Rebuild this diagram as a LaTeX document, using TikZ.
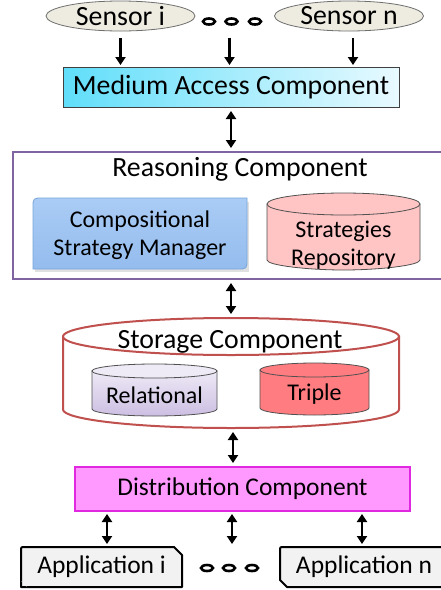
\documentclass[tikz,border=0pt]{standalone}
\usepackage{fontspec}
\setmainfont{Carlito}
\usetikzlibrary{arrows.meta,shapes.geometric}
\definecolor{sensorfill}{RGB}{238,236,225}
\definecolor{sensordraw}{RGB}{110,110,110}
\definecolor{macleft}{RGB}{96,222,250}
\definecolor{macright}{RGB}{232,250,255}
\definecolor{purp}{RGB}{128,100,162}
\definecolor{csmfill}{RGB}{148,188,238}
\definecolor{csmtop}{RGB}{170,204,245}
\definecolor{csmdraw}{RGB}{120,165,220}
\definecolor{repofill}{RGB}{255,196,196}
\definecolor{stdraw}{RGB}{192,80,77}
\definecolor{reltop}{RGB}{238,234,246}
\definecolor{relbot}{RGB}{204,190,226}
\definecolor{triplefill}{RGB}{255,124,128}
\definecolor{distfill}{RGB}{255,153,255}
\definecolor{distdraw}{RGB}{224,40,224}
\definecolor{appfill}{RGB}{242,242,242}
\definecolor{cyldraw}{RGB}{80,80,80}
\begin{document}
\begin{tikzpicture}[x=1pt,y=-1pt,
  arr/.style={line width=2.6pt,-{Triangle[width=10pt,length=8pt]}},
  darr/.style={line width=2.6pt,{Triangle[width=10pt,length=8pt]}-{Triangle[width=10pt,length=8pt]}},
  bigf/.style={font=\fontsize{27.8}{30}\selectfont},
  midf/.style={font=\fontsize{25.5}{28}\selectfont},
  smallf/.style={font=\fontsize{24}{28.5}\selectfont},
  sensor/.style={ellipse,draw=sensordraw,line width=0.8pt,fill=sensorfill,minimum width=149pt,minimum height=30pt,inner sep=0pt},
  dotsh/.style={ellipse,draw=black,line width=2.6pt,fill=white,minimum width=12pt,minimum height=6pt,inner sep=0pt},
  anchorbox/.style={inner sep=0pt,outer sep=0pt},
  appline/.style={draw=black,line width=2pt,fill=appfill,line join=round}]
\useasboundingbox (0,0) rectangle (441,590);
\fill[white] (0,0) rectangle (441,590);

% Sensors
\node[sensor] (si) at (120.5,16) {};
\node[bigf] at (si) {Sensor i};
\node[sensor] (sn) at (349,16) {};
\node[bigf] at (sn) {Sensor n};
\node[dotsh] (d1) at (209,21.5) {};
\node[dotsh] (d2) at (231.5,21.5) {};
\node[dotsh] (d3) at (255,21.5) {};

% Medium access
\node[anchorbox,draw=black!75,line width=0.8pt,left color=macleft,right color=macright,minimum width=336pt,minimum height=40pt] (mac) at (231,87) {};
\node[bigf] at (mac) {Medium Access Component};

\coordinate (s1) at ([yshift=-7pt]si.south);
\coordinate (s2) at ([xshift=-2pt,yshift=-16pt]d2.center);
\coordinate (s3) at ([xshift=4pt,yshift=-7pt]sn.south);
\draw[arr,shorten >=2pt] (s1) -- (s1 |- mac.north);
\draw[arr,shorten >=2pt] (s2) -- (s2 |- mac.north);
\draw[arr,shorten >=2pt] (s3) -- (s3 |- mac.north);

% Reasoning (right side runs off the picture)
\node[anchorbox,minimum width=428pt,minimum height=127pt] (rc) at (227,215.5) {};
\draw[purp,line width=2.5pt] (rc.north east) -- (rc.north west) -- (rc.south west) -- (rc.south east);
\node[bigf] (rct) at (240,169) {Reasoning Component};

\draw[darr,shorten <=4pt,shorten >=4pt] (mac.south) -- (mac.south |- rc.north);

% Compositional strategy manager
\node[anchorbox,minimum width=214pt,minimum height=71pt] (csmb) at (140,233.5) {};
\fill[black!12] (35,271.5) -- (35,202) -- (249,202) -- (249,271.5) -- cycle;
\draw[draw=csmdraw,line width=0.8pt,top color=csmtop,bottom color=csmfill]
  (33,269) -- (33,208) .. controls (33,198) .. (43,198) -- (247,198) -- (247,259)
  .. controls (247,269) .. (237,269) -- cycle;
\node[smallf,align=center] (csm) at (140,235) {Compositional\\Strategy Manager};

% Strategies repository cylinder
\node[anchorbox,minimum width=153pt,minimum height=77pt] (srb) at (343.5,231.5) {};
\draw[draw=cyldraw,line width=0.8pt,fill=repofill]
  (267,204) -- (267,260)
  .. controls (267,265.5) and (309.3,270) .. (343.5,270)
  .. controls (377.7,270) and (420,265.5) .. (420,260)
  -- (420,204) -- cycle;
\draw[draw=cyldraw,line width=0.8pt,fill=repofill] (343.5,204) ellipse [x radius=76.5, y radius=11];
\node[smallf,align=center] (sr) at (343.5,245) {Strategies\\Repository};

% Storage component
\node[anchorbox,minimum width=336pt,minimum height=110pt] (st) at (231,373) {};
\draw[draw=stdraw,line width=2pt,fill=white]
  (63,336.5) -- (63,409.5)
  .. controls (63,419.7) and (138.2,428) .. (231,428)
  .. controls (323.8,428) and (399,419.7) .. (399,409.5)
  -- (399,336.5) -- cycle;
\draw[draw=stdraw,line width=2pt,fill=white] (231,336.5) ellipse [x radius=168, y radius=18.5];
\node[bigf] (stt) at (230,342) {Storage Component};

\draw[darr,shorten <=4pt,shorten >=4pt] (mac.south |- rc.south) -- (mac.south |- st.north);

% Relational
\node[anchorbox,minimum width=125pt,minimum height=52pt] (relb) at (154.5,390) {};
\draw[draw=cyldraw,line width=0.8pt,top color=reltop,bottom color=relbot]
  (92,371) -- (92,409)
  .. controls (92,412.9) and (119.9,416) .. (154.5,416)
  .. controls (189.1,416) and (217,412.9) .. (217,409)
  -- (217,371) -- cycle;
\draw[draw=cyldraw,line width=0.8pt,fill=reltop] (154.5,371) ellipse [x radius=62.5, y radius=7];
\node[smallf] (rel) at (154.5,395) {Relational};

% Triple
\node[anchorbox,minimum width=109pt,minimum height=52pt] (trb) at (314.5,389) {};
\draw[draw=cyldraw,line width=0.8pt,fill=triplefill]
  (260,370) -- (260,408)
  .. controls (260,411.9) and (284.4,415) .. (314.5,415)
  .. controls (344.6,415) and (369,411.9) .. (369,408)
  -- (369,370) -- cycle;
\draw[draw=cyldraw,line width=0.8pt,fill=triplefill] (314.5,370) ellipse [x radius=54.5, y radius=7];
\node[smallf] (tr) at (314.5,394) {Triple};

% Distribution
\node[anchorbox,draw=distdraw,line width=1.6pt,fill=distfill,minimum width=335pt,minimum height=44pt] (dist) at (242.5,489) {};
\node[midf] at (dist) {Distribution Component};

\coordinate (stb) at ([xshift=2pt]st.south);
\draw[darr,shorten <=4pt,shorten >=4pt] (stb) -- (stb |- dist.north);

% Applications
\node[anchorbox,minimum width=161pt,minimum height=40pt] (ai) at (101.5,567) {};
\draw[appline] (21,587) -- (21,550) .. controls (21,547) .. (24,547) -- (174,547) -- (182,555)
  -- (182,587) -- (27,587) -- cycle;
\path[appline,draw=none] (21,581) -- (27,587);
\node[midf] at (ai) {Application i};

\node[anchorbox,minimum width=161pt,minimum height=40pt] (an) at (360.5,567) {};
\fill[appfill] (an.north west) -- (441,547) -- (441,587) -- (287,587) -- (280,580) -- cycle;
\draw[black,line width=2pt,line join=round] (441,547) -- (283,547) .. controls (280,547) .. (280,550)
  -- (280,580) -- (287,587) -- (441,587);
\node[midf] at (364,567) {Application n};

\node[dotsh] (d4) at (207,568) {};
\node[dotsh] (d5) at (229,568) {};
\node[dotsh] (d6) at (252,568) {};

\coordinate (b1) at ([xshift=5.5pt]ai.north);
\coordinate (b2) at ([xshift=3pt,yshift=24pt]d5.center);
\coordinate (b3) at ([xshift=1.5pt]an.north);
\draw[darr,shorten <=3pt,shorten >=3pt] (b1 |- dist.south) -- (b1);
\draw[darr,shorten <=3pt] (b2 |- dist.south) -- (b2);
\draw[darr,shorten <=3pt,shorten >=3pt] (b3 |- dist.south) -- (b3);
\end{tikzpicture}
\end{document}
